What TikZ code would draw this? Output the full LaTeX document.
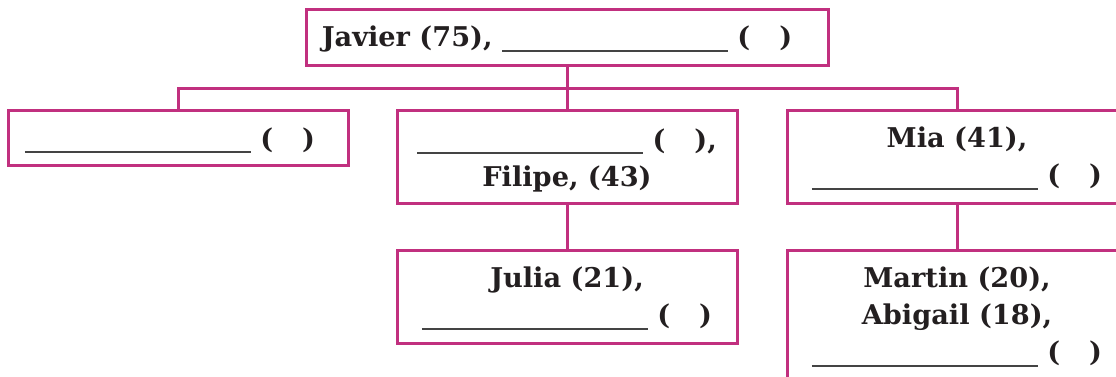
\documentclass[tikz,border=0pt]{standalone}
\usepackage{fontspec}
\setmainfont{DejaVu Serif}
\definecolor{frame}{HTML}{C1307F}
\definecolor{ink}{HTML}{231F20}
\definecolor{blankline}{HTML}{444444}
% answer blank followed by an empty pair of parentheses
\newcommand\blankline{{\color{blankline}\rule[-2.6pt]{113pt}{1pt}}}
\newcommand\emptyparen{(\hspace{14.5pt})}
\tikzset{
  x=0.5pt, y=-0.5pt,
  person/.style={draw=frame, line width=1.5pt, fill=white, inner sep=0pt},
  entry/.style={inner sep=0pt, align=center, text=ink,
    font=\fontsize{13.6}{18.5}\selectfont\bfseries},
  link/.style={draw=frame, line width=1.5pt},
}
\begin{document}
\begin{tikzpicture}
\useasboundingbox (0,0) rectangle (1116,376);
\clip (0,0) rectangle (1116,376);
\fill[white] (0,0) rectangle (1116,376);

% family boxes
\node[person, minimum width=261pt, minimum height=28pt] (javier) at (567,37) {};
\node[person, minimum width=170pt, minimum height=27.5pt] (left) at (178,137.5) {};
\node[person, minimum width=170pt, minimum height=46.5pt] (filipe) at (567,156.5) {};
\node[person, minimum width=170pt, minimum height=46.5pt] (mia) at (957,156.5) {};
\node[person, minimum width=170pt, minimum height=46.5pt] (julia) at (567,296.5) {};
\node[person, minimum width=170pt, minimum height=70pt] (martin) at (957,320) {};

% names, ages and blanks
\node[entry] (javier-t) at ([xshift=-5pt,yshift=-1pt]javier.center)
  {Javier (75), \blankline\ \emptyparen};
\node[entry] (left-t) at ([xshift=-4pt,yshift=-1.5pt]left.center)
  {\blankline\ \emptyparen};
\node[entry] (filipe-t) at ([yshift=-1.75pt]filipe.center)
  {\blankline\ \emptyparen,\\ Filipe, (43)};
\node[entry] (mia-t) at ([yshift=-1pt]mia.center)
  {Mia (41),\\ \blankline\ \emptyparen};
\node[entry] (julia-t) at ([yshift=-1pt]julia.center)
  {Julia (21),\\ \blankline\ \emptyparen};
\node[entry] (martin-t) at ([yshift=1.5pt]martin.center)
  {Martin (20),\\ Abigail (18),\\ \blankline\ \emptyparen};

% connectors
\coordinate (bar) at (0,88);
\draw[link] (javier.south) -- (filipe.north);
\draw[link] (left.north) -- (left.north |- bar) -- (mia.north |- bar) -- (mia.north);
\draw[link] (filipe.south) -- (julia.north);
\draw[link] (mia.south) -- (martin.north);
\end{tikzpicture}
\end{document}
